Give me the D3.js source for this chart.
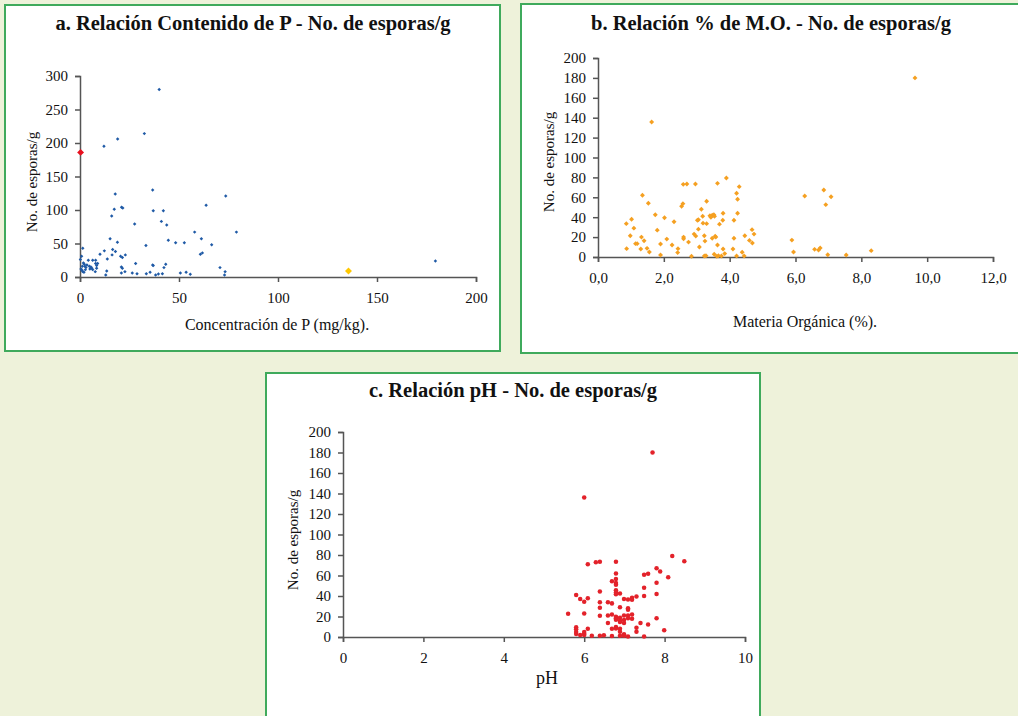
<!DOCTYPE html>
<html><head><meta charset="utf-8">
<script src="https://cdn.jsdelivr.net/npm/d3@7"></script>
<style>
html,body{margin:0;padding:0;background:#EEF2DA;}
svg{display:block;}
</style></head><body>
<svg id="chart" width="1018" height="716"></svg>
<script>
// ---------- Panel a: P concentration vs spores ----------
const pX = [40,32.5,19,12.1,36.7,17.8,73.6,63.7,21,21.6,17.3,37,42.1,16,41.1,27.6,43.8,57.9,79,15.2,61.3,44.6,18.9,48.3,52.7,33.3,66.5,16.5,17.9,60.8,61.8,16.2,22.9,20.5,21.4,13.8,179.5,28.1,43.3,36.7,37,42.4,70.7,20.9,21.4,13.5,73.3,53.6,26.4,28.8,20.9,33.5,35.4,50.7,55.7,41.6,39.6,38.2,13,73,22.7,
  1.4,0.8,0.2,1.7,1.2,2.5,0.5,1.4,2,2.7,4.2,4.7,5,6.4,6.4,7.9,7.9,8.4,8.4,7.7,8.9,10.1,12.3,3,3.5,5.5,6,1,2.2];
const pY = [280,214,206,195,130,124,121,107,104,103,101,99,99,91,83,79,77.5,67,67,57,57,55,52,51,51,47,48,41,38,34,36,33,33,31,29,27,24,20,19,18,17,14,14,15,13,9,8,7,6,5,6,5,7,6,4,5,4.5,3,3,3,8,
  43,31,26,21,16,16,12,8,7,11,25,16,12,11,25,25,20,17,13,8,20,34,39,14,18,15,13,10,19];
const pHighlightRed = [[0.3,186]];
const pHighlightYellow = [[135.6,9]];
const pXTicks = [0,50,100,150,200];
const pYTicks = [0,50,100,150,200,250,300];

// ---------- Panel b: organic matter vs spores ----------
const moX = [9.63,1.63,3.9,2.59,2.7,2.96,3.63,4.29,6.86,4.21,1.35,6.28,7.08,4.24,3.3,1.53,2.58,2.54,6.92,3.14,3.8,4.24,1.74,3.18,3.4,3.47,3.52,3.54,3.43,1.02,2.02,3.02,3.05,3.79,4.13,2.31,0.86,3.19,3.3,3.69,1.09,3.05,1.8,4.68,2.92,2.97,4.74,0.98,2.6,2.6,3.23,3.56,3.58,4.46,1.32,3.47,4.13,2.09,5.89,1.4,4.6,3.25,2.75,4.69,1.14,1.19,1.9,2.25,3.63,3.08,0.87,1.3,1.49,2.43,4.1,3.8,6.58,6.7,6.75,8.3,1.56,2.42,4.38,5.94,3.85,3.53,6.98,7.54,1.9,3.28,3.23,3.66,3.61,3.75,4.21,4.44,2.84];
const moY = [180,135.7,79.4,73,73.4,73.4,74,70.7,67.3,64,62,61.3,60.6,58,56,54,53.6,51,52.6,48,44,44,42.5,41,41.5,42,42.5,41,40,38,39.5,37,37.5,37,37,35.5,33.5,34,33.5,33,29,28,27,27.5,23,21,23,21.4,20,18.4,21.4,20.8,20,21.4,20,18.8,18.8,18,17,16.4,16.7,16,15,14,13.4,13.4,13,12,12,10,8.4,8,8.7,8.4,8,8,7.7,7,9,6.4,5,4.4,4.7,5,3.4,2.7,2.3,2,2,1.3,1,1.3,0.7,1,1,1,0.7];
const moXTicks = [0,2,4,6,8,10,12];
const moYTicks = [0,20,40,60,80,100,120,140,160,180,200];

// ---------- Panel c: pH vs spores ----------
const phX = [7.7,6.0,8.19,8.49,6.29,6.39,6.79,6.09,7.8,7.89,6.79,7.59,7.49,8.09,6.79,6.69,6.79,6.79,7.8,7.49,6.39,6.79,6.79,6.79,6.89,7.8,5.8,7.49,7.3,7.19,7.19,6.99,7.09,5.9,6.09,6.0,6.39,6.59,6.69,6.39,6.89,7.09,7.09,5.6,6.0,6.69,6.59,6.39,6.79,6.79,6.79,6.89,6.89,6.89,6.99,6.99,6.99,7.09,7.09,7.19,7.19,7.8,7.4,6.59,7.59,5.8,5.8,5.8,5.8,6.09,6.69,6.79,6.79,6.89,6.89,7.3,7.3,7.99,5.9,6.0,6.0,6.0,6.19,6.39,6.49,6.69,6.89,6.99,6.99,7.09,7.49];
const phY = [180,136,79,74,73,73.4,73.4,71,67,64,62,61.7,60.7,58.4,56.5,54.5,52.6,51,53,48,44.5,45.5,43.5,41.6,42.5,42,41,40,39.6,38.3,36.4,37,36.7,37,37.7,34.4,33.8,33.8,32.8,28.6,29,28,26.6,22.7,23,22,21,20.8,19.8,18.2,16.9,18.8,16.2,14.6,21,16.6,13.6,21,18.2,22,17.9,18.2,13.6,13.6,12.3,9.4,7.5,4.9,2.9,8,8,9.7,8.4,8,5.2,9,5.2,6.5,2,4.9,3.2,2,1.3,1.3,1.6,1,1.3,2.6,1.3,0.6,0.6];
const phXTicks = [0,2,4,6,8,10];
const phYTicks = [0,20,40,60,80,100,120,140,160,180,200];

const svg = d3.select("#chart");
const AXIS = "#555";
const FAM = "'Liberation Serif', 'DejaVu Serif', serif";

function panel(cfg) {
  const g = svg.append("g");
  g.append("rect").attr("x", cfg.box[0]).attr("y", cfg.box[1]).attr("width", cfg.box[2]).attr("height", cfg.box[3])
    .attr("fill", "#fff").attr("stroke", "#3FAA5C").attr("stroke-width", 2);
  g.append("text").attr("x", cfg.titlePos[0]).attr("y", cfg.titlePos[1]).attr("text-anchor", "middle")
    .style("font-family", FAM).style("font-weight", "bold").style("font-size", "20.5px").style("fill", "#111")
    .text(cfg.title);
  const x = d3.scaleLinear().domain(cfg.xDomain).range(cfg.xRange);
  const y = d3.scaleLinear().domain(cfg.yDomain).range(cfg.yRange);
  const xAxis = d3.axisBottom(x).tickValues(cfg.xTicks).tickSize(5).tickPadding(10).tickFormat(cfg.xFmt);
  const yAxis = d3.axisLeft(y).tickValues(cfg.yTicks).tickSize(5).tickPadding(7).tickFormat(d3.format("d"));
  const gx = g.append("g").attr("transform", `translate(0,${cfg.yRange[0]})`).call(xAxis);
  const gy = g.append("g").attr("transform", `translate(${cfg.xRange[0]},0)`).call(yAxis);
  [gx, gy].forEach(a => {
    a.attr("font-family", null).attr("font-size", null);
    a.select(".domain").attr("stroke", AXIS).attr("stroke-width", 1.5);
    a.selectAll(".tick line").attr("stroke", AXIS).attr("stroke-width", 1.5);
    a.selectAll("text").style("font-family", FAM).style("font-size", "15px").style("fill", "#111");
  });
  g.append("text").attr("transform", `translate(${cfg.yTitlePos[0]},${cfg.yTitlePos[1]}) rotate(-90)`)
    .attr("text-anchor", "middle").style("font-family", FAM).style("font-size", "15px").style("fill", "#111")
    .text("No. de esporas/g");
  g.append("text").attr("x", cfg.xTitlePos[0]).attr("y", cfg.xTitlePos[1]).attr("text-anchor", "middle")
    .style("font-family", FAM).style("font-size", (cfg.xTitleSize || 16) + "px").style("fill", "#111")
    .text(cfg.xTitle);
  return {g, x, y};
}

function dots(p, xs, ys, color, size, shape, rot) {
  const sym = d3.symbol().type(shape).size(size);
  p.g.append("g").selectAll("path").data(xs.map((d, i) => [d, ys[i]])).join("path")
    .attr("transform", d => `translate(${p.x(d[0])},${p.y(d[1])}) rotate(${rot || 0})`)
    .attr("d", sym).attr("fill", color);
}

// Panel a
const pa = panel({
  box: [5, 5, 495, 346], title: "a. Relación Contenido de P - No. de esporas/g", titlePos: [253, 30],
  xDomain: [0, 200], xRange: [80, 476], yDomain: [0, 300], yRange: [277, 76],
  xTicks: pXTicks, yTicks: pYTicks, xFmt: d3.format("d"),
  yTitlePos: [37, 182], xTitlePos: [277, 330], xTitle: "Concentración de P (mg/kg)."
});
dots(pa, pX, pY, "#1F5AA6", 6, d3.symbolSquare, 45);
dots(pa, pHighlightRed.map(d => d[0]), pHighlightRed.map(d => d[1]), "#E8101E", 24, d3.symbolSquare, 45);
dots(pa, pHighlightYellow.map(d => d[0]), pHighlightYellow.map(d => d[1]), "#FFC800", 24, d3.symbolSquare, 45);

// Panel b
const fmtComma = d => d3.format(".1f")(d).replace(".", ",");
const pb = panel({
  box: [521, 4, 510, 349], title: "b. Relación % de M.O. - No. de esporas/g", titlePos: [771, 30],
  xDomain: [0, 12], xRange: [598, 993], yDomain: [0, 200], yRange: [257, 58],
  xTicks: moXTicks, yTicks: moYTicks, xFmt: fmtComma,
  yTitlePos: [554, 162], xTitlePos: [805, 327], xTitle: "Materia Orgánica (%)."
});
dots(pb, moX, moY, "#F5A021", 12, d3.symbolSquare, 45);

// Panel c
const pc = panel({
  box: [266, 373, 494, 360], title: "c. Relación pH - No. de esporas/g", titlePos: [513, 397],
  xDomain: [0, 10], xRange: [343, 745], yDomain: [0, 200], yRange: [637, 432],
  xTicks: phXTicks, yTicks: phYTicks, xFmt: d3.format("d"),
  yTitlePos: [298, 540], xTitlePos: [547, 684], xTitle: "pH", xTitleSize: 18
});
dots(pc, phX, phY, "#E3222A", 16, d3.symbolCircle);
</script>
</body></html>
